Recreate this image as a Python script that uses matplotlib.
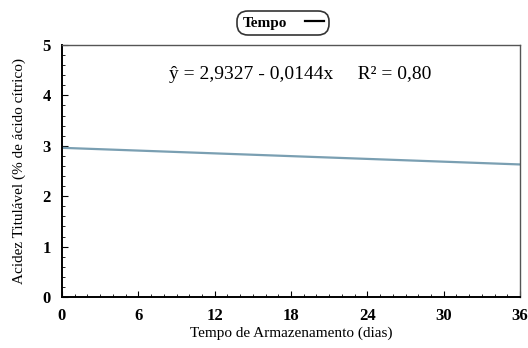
import numpy as np
import matplotlib.pyplot as plt
from matplotlib.ticker import MultipleLocator

# tempo de armazenamento (dias) e acidez
tempo = [0, 36]
acidez = [2.96, 2.63]
xticks = [0, 6, 12, 18, 24, 30, 36]
yticks = [0, 1, 2, 3, 4, 5]

plt.rcParams['font.family'] = ['Liberation Serif', 'DejaVu Serif']

fig = plt.figure(figsize=(5.28, 3.48), dpi=100)
ax = fig.add_axes([62 / 528, 1 - 297 / 348, 458 / 528, 252 / 348])

line, = ax.plot(tempo, acidez, color='#7a9fb2', linewidth=1.6, label='Tempo')

ax.set_xlim(0, 36)
ax.set_ylim(0, 5)
ax.set_xticks(xticks)
ax.set_yticks(yticks)
ax.xaxis.set_minor_locator(MultipleLocator(1))
ax.yaxis.set_minor_locator(MultipleLocator(0.2))
ax.tick_params(which='both', direction='in', top=False, right=False)
ax.tick_params(which='major', length=4, labelsize=12, pad=8)
ax.tick_params(which='minor', length=2)
for lab in ax.get_xticklabels() + ax.get_yticklabels():
    lab.set_fontweight('bold')

for s in ['left', 'bottom']:
    ax.spines[s].set_linewidth(1.4)
for s in ['top', 'right']:
    ax.spines[s].set_linewidth(1.0)
    ax.spines[s].set_color('#555555')

ax.set_xlabel('Tempo de Armazenamento (dias)', fontsize=11, labelpad=2)
ax.set_ylabel('Acidez Titulável (% de ácido cítrico)', fontsize=11, labelpad=12)

ax.text(18.7, 4.42, 'ŷ = 2,9327 - 0,0144x     R² = 0,80', fontsize=14,
        ha='center', va='center')

leg = fig.legend(handles=[line], loc='center', bbox_to_anchor=(283 / 528, 1 - 23 / 348),
                 frameon=True, fancybox=True, prop={'size': 11, 'weight': 'bold'},
                 handlelength=1.2, markerfirst=False, borderpad=0.05,
                 borderaxespad=0, edgecolor='black', handletextpad=1.2)
leg.get_lines()[0].set_color('black')
leg.get_lines()[0].set_linewidth(1.6)
leg.get_frame().set_linewidth(1.2)
leg.get_frame().set_boxstyle('round,pad=0.3,rounding_size=0.7')

fig.savefig('out.png', dpi=100)
